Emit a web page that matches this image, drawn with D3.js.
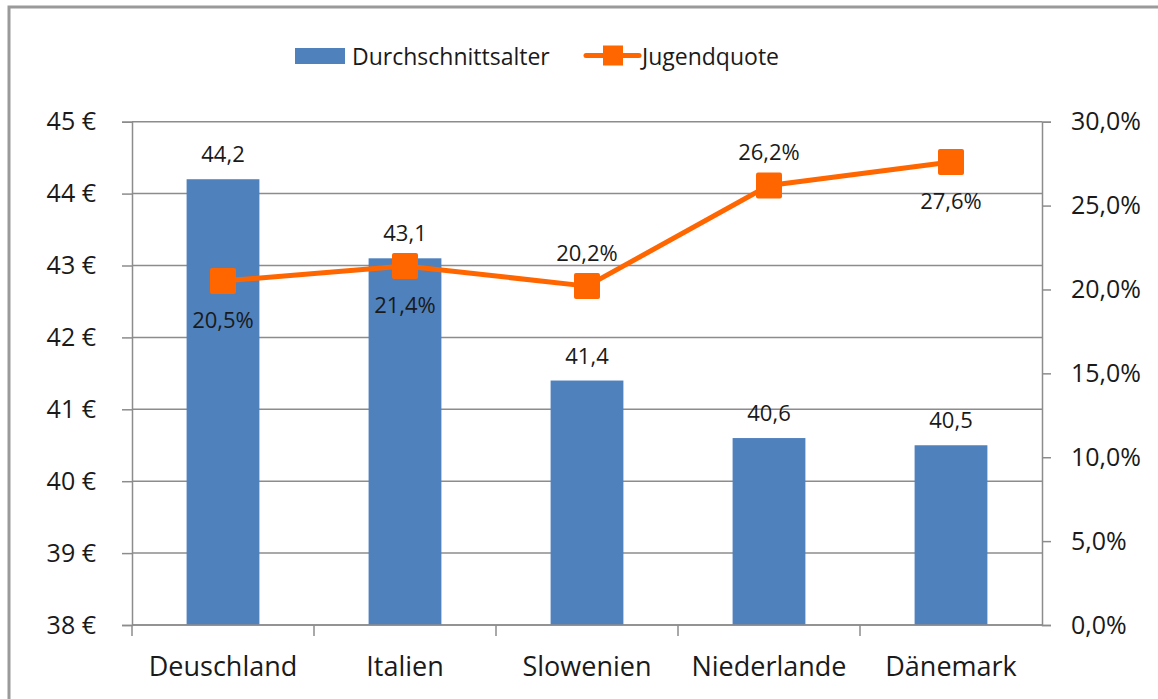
<!DOCTYPE html>
<html>
<head>
<meta charset="utf-8">
<script src="https://cdn.jsdelivr.net/npm/d3@7"></script>
<style>
  body { margin: 0; background: #ffffff; }
  svg { display: block; font-family: "Open Sans", sans-serif; }
</style>
</head>
<body>
<div id="chart"></div>
<script>
// chart data
var laender = ["Deuschland", "Italien", "Slowenien", "Niederlande", "Dänemark"];
var durchschnittsalter = [44.2, 43.1, 41.4, 40.6, 40.5];
var jugendquote = [20.5, 21.4, 20.2, 26.2, 27.6];
var quoteLabelPos = ["below", "below", "above", "above", "below"];
var alterTicks = [38, 39, 40, 41, 42, 43, 44, 45];
var quoteTicks = [0, 5, 10, 15, 20, 25, 30];

var w = 1158, h = 699;
var plotLeft = 132, plotRight = 1042, plotTop = 121.7, plotBottom = 625;
var blue = "#4f81bd", orange = "#ff6600", gridColor = "#8c8c8c";

var svg = d3.select("#chart").append("svg").attr("width", w).attr("height", h);

// frame (runs off the right and bottom edge like in the original)
svg.append("rect").attr("x", 9).attr("y", 7).attr("width", 1170).attr("height", 720)
    .attr("fill", "#fff").attr("stroke", "#9a9a9a").attr("stroke-width", 3);

var x = d3.scaleBand().domain(laender).range([plotLeft, plotRight]).padding(0);
var yLeft = d3.scaleLinear().domain([38, 45]).range([plotBottom, plotTop]);
var yRight = d3.scaleLinear().domain([0, 30]).range([plotBottom, plotTop]);

// gridlines
svg.append("g").selectAll("line").data(alterTicks).enter().append("line")
    .attr("x1", plotLeft).attr("x2", plotRight)
    .attr("y1", function (d) { return yLeft(d); })
    .attr("y2", function (d) { return yLeft(d); })
    .attr("stroke", gridColor).attr("stroke-width", 1.5);

// bars
var barW = x.bandwidth() * 0.4;
svg.append("g").selectAll("rect").data(durchschnittsalter).enter().append("rect")
    .attr("x", function (d, i) { return x(laender[i]) + (x.bandwidth() - barW) / 2; })
    .attr("y", function (d) { return yLeft(d); })
    .attr("width", barW)
    .attr("height", function (d) { return plotBottom - yLeft(d); })
    .attr("fill", blue);

svg.append("g").selectAll("text").data(durchschnittsalter).enter().append("text")
    .attr("x", function (d, i) { return x(laender[i]) + x.bandwidth() / 2; })
    .attr("y", function (d) { return yLeft(d) - 17; })
    .attr("text-anchor", "middle").attr("font-size", 22).attr("fill", "#1a1a1a")
    .text(function (d) { return d3.format(".1f")(d).replace(".", ","); });

// left axis
var axL = svg.append("g").attr("transform", "translate(" + plotLeft + ",0)")
    .call(d3.axisLeft(yLeft).tickValues(alterTicks).tickSize(10).tickPadding(26)
        .tickFormat(function (d) { return d + "\u00a0€"; }));
// right axis
var axR = svg.append("g").attr("transform", "translate(" + plotRight + ",0)")
    .call(d3.axisRight(yRight).tickValues(quoteTicks).tickSize(9).tickPadding(20)
        .tickFormat(function (d) { return d3.format(".1f")(d).replace(".", ",") + "%"; }));
// bottom axis: ticks at category borders
var axB = svg.append("g").attr("transform", "translate(0," + plotBottom + ")")
    .call(d3.axisBottom(x).tickSize(0).tickPadding(32));
axB.selectAll(".tick").append("line")
    .attr("x1", -x.bandwidth() / 2).attr("x2", -x.bandwidth() / 2)
    .attr("y1", 0).attr("y2", 11);

[axL, axR, axB].forEach(function (ax) {
    ax.select(".domain").attr("stroke", gridColor).attr("stroke-width", 1.5);
    ax.selectAll(".tick line").attr("stroke", gridColor).attr("stroke-width", 1.5);
    ax.selectAll("text").attr("font-size", 25).attr("fill", "#1a1a1a")
        .attr("font-family", "'Open Sans', sans-serif");
});
axB.selectAll("text").attr("font-size", 27);
axB.select(".domain").attr("d", "M" + plotLeft + ",0H" + plotRight);

// line series
var cx = function (i) { return x(laender[i]) + x.bandwidth() / 2; };
var line = d3.line().x(function (d, i) { return cx(i); }).y(function (d) { return yRight(d); });
svg.append("path").attr("d", line(jugendquote)).attr("fill", "none")
    .attr("stroke", orange).attr("stroke-width", 5).attr("stroke-linejoin", "round");

var ms = 26;
svg.append("g").selectAll("rect").data(jugendquote).enter().append("rect")
    .attr("x", function (d, i) { return cx(i) - ms / 2; })
    .attr("y", function (d) { return yRight(d) - ms / 2; })
    .attr("width", ms).attr("height", ms).attr("rx", 2)
    .attr("fill", orange);

svg.append("g").selectAll("text").data(jugendquote).enter().append("text")
    .attr("x", function (d, i) { return cx(i); })
    .attr("y", function (d, i) { return yRight(d) + (quoteLabelPos[i] === "below" ? 47 : -25); })
    .attr("text-anchor", "middle").attr("font-size", 22).attr("fill", "#1a1a1a")
    .text(function (d) { return d3.format(".1f")(d).replace(".", ",") + "%"; });

// legend
var lg = svg.append("g");
lg.append("rect").attr("x", 295).attr("y", 48).attr("width", 50).attr("height", 16).attr("fill", blue);
lg.append("text").attr("x", 352).attr("y", 65).attr("font-size", 23).attr("fill", "#1a1a1a")
    .text("Durchschnittsalter");
lg.append("line").attr("x1", 586).attr("x2", 639).attr("y1", 55.5).attr("y2", 55.5)
    .attr("stroke", orange).attr("stroke-width", 5).attr("stroke-linecap", "round");
lg.append("rect").attr("x", 603).attr("y", 45.5).attr("width", 20).attr("height", 20).attr("fill", orange);
lg.append("text").attr("x", 642).attr("y", 65).attr("font-size", 23).attr("fill", "#1a1a1a")
    .text("Jugendquote");
</script>
</body>
</html>
